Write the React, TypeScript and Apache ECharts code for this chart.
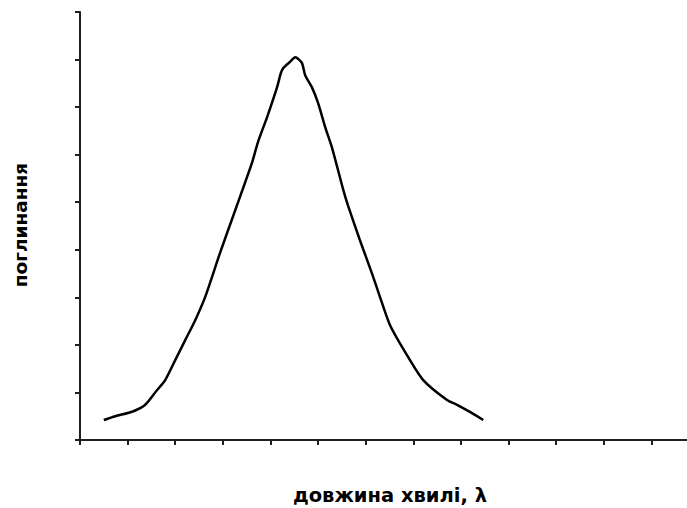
import React, { useEffect, useRef } from "react";
import * as echarts from "echarts";

// Absorption band: wavelength (axis units) vs. absorbance
const wavelength = [
  0.5, 0.74, 1.11, 1.37, 1.62, 1.79, 2.0, 2.21, 2.42, 2.63, 2.94, 3.21, 3.47,
  3.61, 3.74, 3.93, 4.14, 4.22, 4.27, 4.41, 4.52, 4.66, 4.73, 4.87, 5.0, 5.15,
  5.29, 5.53, 5.63, 5.88, 6.13, 6.3, 6.51, 6.83, 7.21, 7.71, 7.92, 8.19, 8.47,
];
const absorbance = [
  0.42, 0.5, 0.6, 0.74, 1.05, 1.26, 1.68, 2.1, 2.52, 3.01, 3.93, 4.69, 5.42,
  5.82, 6.27, 6.79, 7.42, 7.72, 7.82, 7.95, 8.05, 7.93, 7.67, 7.42, 7.09, 6.58,
  6.16, 5.26, 4.93, 4.2, 3.51, 3.01, 2.42, 1.85, 1.26, 0.84, 0.74, 0.59, 0.42,
];
const xTicks = [0, 1, 2, 3, 4, 5, 6, 7, 8, 9, 10, 11, 12];
const xAxisTitle = "довжина хвилі, λ";
const yAxisTitle = "поглинання";

export default function App() {
  const ref = useRef<HTMLDivElement>(null);

  useEffect(() => {
    if (!ref.current) return;
    const chart = echarts.init(ref.current, null, { renderer: "svg" });
    const axisColor = "#1e1e1e";
    const font = "'DejaVu Sans', Verdana, sans-serif";
    chart.setOption({
      animation: false,
      backgroundColor: "#ffffff",
      grid: { left: 80, right: 0, top: 12, bottom: 68 },
      xAxis: {
        type: "value",
        min: 0,
        max: 12.75,
        interval: 1,
        axisLine: { show: true, onZero: false, lineStyle: { color: axisColor, width: 2 } },
        axisTick: {
          show: true,
          length: 5,
          customValues: xTicks,
          lineStyle: { color: axisColor, width: 2 },
        },
        axisLabel: { show: false },
        splitLine: { show: false },
      },
      yAxis: {
        type: "value",
        min: 0,
        max: 9,
        interval: 1,
        axisLine: { show: true, onZero: false, lineStyle: { color: axisColor, width: 2 } },
        axisTick: { show: true, length: 5, lineStyle: { color: axisColor, width: 2 } },
        axisLabel: { show: false },
        splitLine: { show: false },
      },
      series: [
        {
          type: "line",
          data: wavelength.map((x, i) => [x, absorbance[i]]),
          showSymbol: false,
          smooth: 0.25,
          lineStyle: { color: "#000000", width: 2.5 },
        },
      ],
      graphic: [
        {
          type: "text",
          x: 390,
          y: 495,
          style: {
            text: xAxisTitle,
            font: `bold 19.5px ${font}`,
            fill: "#000000",
            align: "center",
            verticalAlign: "middle",
          },
        },
        {
          type: "text",
          x: 20,
          y: 225,
          rotation: Math.PI / 2,
          style: {
            text: yAxisTitle,
            font: `bold 18.5px ${font}`,
            fill: "#000000",
            align: "center",
            verticalAlign: "middle",
          },
        },
      ],
    });
    return () => chart.dispose();
  }, []);

  return (
    <div
      ref={ref}
      style={{ position: "fixed", left: 0, top: 0, width: 687, height: 508, background: "#fff" }}
    />
  );
}
